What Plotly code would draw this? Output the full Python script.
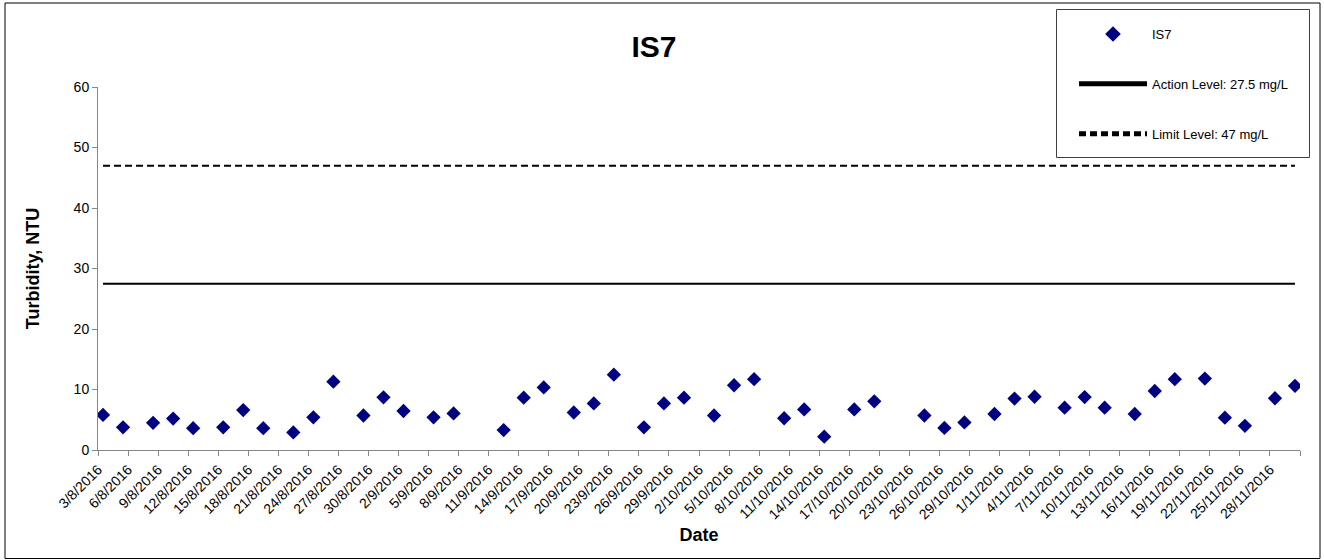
import pandas as pd
import plotly.graph_objects as go

# ---- data ----
sample_dates = [
    "2016-08-03", "2016-08-05", "2016-08-08", "2016-08-10", "2016-08-12",
    "2016-08-15", "2016-08-17", "2016-08-19", "2016-08-22", "2016-08-24",
    "2016-08-26", "2016-08-29", "2016-08-31", "2016-09-02", "2016-09-05",
    "2016-09-07", "2016-09-12", "2016-09-14", "2016-09-16", "2016-09-19",
    "2016-09-21", "2016-09-23", "2016-09-26", "2016-09-28", "2016-09-30",
    "2016-10-03", "2016-10-05", "2016-10-07", "2016-10-10", "2016-10-12",
    "2016-10-14", "2016-10-17", "2016-10-19", "2016-10-24", "2016-10-26",
    "2016-10-28", "2016-10-31", "2016-11-02", "2016-11-04", "2016-11-07",
    "2016-11-09", "2016-11-11", "2016-11-14", "2016-11-16", "2016-11-18",
    "2016-11-21", "2016-11-23", "2016-11-25", "2016-11-28", "2016-11-30",
]
is7_turbidity = [
    5.8, 3.75, 4.5, 5.2, 3.6,
    3.75, 6.6, 3.6, 2.9, 5.4,
    11.3, 5.7, 8.7, 6.45, 5.4,
    6.05, 3.3, 8.65, 10.35, 6.2,
    7.7, 12.45, 3.75, 7.7, 8.65,
    5.7, 10.7, 11.7, 5.25, 6.7,
    2.2, 6.7, 8.05, 5.7, 3.65,
    4.55, 5.95, 8.5, 8.8, 7.0,
    8.75, 7.0, 5.95, 9.75, 11.7,
    11.8, 5.35, 4.0, 8.55, 10.6,
]
action_level = 27.5
limit_level = 47

tick_dates = [
    "2016-08-03", "2016-08-06", "2016-08-09", "2016-08-12", "2016-08-15",
    "2016-08-18", "2016-08-21", "2016-08-24", "2016-08-27", "2016-08-30",
    "2016-09-02", "2016-09-05", "2016-09-08", "2016-09-11", "2016-09-14",
    "2016-09-17", "2016-09-20", "2016-09-23", "2016-09-26", "2016-09-29",
    "2016-10-02", "2016-10-05", "2016-10-08", "2016-10-11", "2016-10-14",
    "2016-10-17", "2016-10-20", "2016-10-23", "2016-10-26", "2016-10-29",
    "2016-11-01", "2016-11-04", "2016-11-07", "2016-11-10", "2016-11-13",
    "2016-11-16", "2016-11-19", "2016-11-22", "2016-11-25", "2016-11-28",
    "2016-12-01",
]
tick_labels = [
    "3/8/2016", "6/8/2016", "9/8/2016", "12/8/2016", "15/8/2016",
    "18/8/2016", "21/8/2016", "24/8/2016", "27/8/2016", "30/8/2016",
    "2/9/2016", "5/9/2016", "8/9/2016", "11/9/2016", "14/9/2016",
    "17/9/2016", "20/9/2016", "23/9/2016", "26/9/2016", "29/9/2016",
    "2/10/2016", "5/10/2016", "8/10/2016", "11/10/2016", "14/10/2016",
    "17/10/2016", "20/10/2016", "23/10/2016", "26/10/2016", "29/10/2016",
    "1/11/2016", "4/11/2016", "7/11/2016", "10/11/2016", "13/11/2016",
    "16/11/2016", "19/11/2016", "22/11/2016", "25/11/2016", "28/11/2016",
    "",
]

# ---- figure ----
W, H = 1324, 560
ML, MR, MT, MB = 98, 24, 87, 110
PW, PH = W - ML - MR, H - MT - MB

# Excel-style date axis: each day's value sits in the middle of its day slot
x_plot = pd.to_datetime(pd.Series(sample_dates)) + pd.Timedelta(hours=12)

FONT = "Liberation Sans, Arial, sans-serif"
AXIS_GREY = "#868686"

fig = go.Figure()
fig.add_trace(go.Scatter(
    x=x_plot, y=is7_turbidity, mode="markers", name="IS7",
    legendgroup="a",
    marker=dict(symbol="diamond", size=11, color="#000080",
                line=dict(width=0)),
))
fig.add_trace(go.Scatter(
    x=x_plot, y=[action_level] * len(x_plot), mode="lines",
    name="Action Level: 27.5 mg/L", legendgroup="b",
    line=dict(color="black", width=2),
))
fig.add_trace(go.Scatter(
    x=x_plot, y=[limit_level] * len(x_plot), mode="lines",
    name="Limit Level: 47 mg/L", legendgroup="c",
    line=dict(color="black", width=2, dash="7px,4px"),
))


def px_x(p):
    return (p - ML) / PW


def px_y(p):
    return (H - MB - p) / PH


# outer chart border
fig.add_shape(type="rect", xref="paper", yref="paper",
              x0=px_x(5), x1=px_x(1320), y0=px_y(3), y1=px_y(558.5),
              line=dict(color="#000000", width=1), fillcolor="rgba(0,0,0,0)",
              layer="below")
# legend frame
fig.add_shape(type="rect", xref="paper", yref="paper",
              x0=px_x(1056.5), x1=px_x(1309.5), y0=px_y(9.5), y1=px_y(157.5),
              line=dict(color="#404040", width=1), fillcolor="white",
              layer="below")

fig.update_layout(
    width=W, height=H,
    margin=dict(l=ML, r=MR, t=MT, b=MB, pad=0, autoexpand=False),
    paper_bgcolor="white", plot_bgcolor="rgba(0,0,0,0)",
    font=dict(family=FONT, color="black"),
    title=dict(text="<b>IS7</b>", font=dict(size=30, family=FONT, color="black"),
               x=654 / W, xanchor="center", xref="container",
               y=1 - 46 / H, yanchor="middle", yref="container"),
    showlegend=True,
    legend=dict(
        xref="container", yref="container",
        x=1074 / W, y=1 - 19 / H, xanchor="left", yanchor="top",
        borderwidth=0, bgcolor="rgba(0,0,0,0)",
        font=dict(size=13, family=FONT, color="black"),
        tracegroupgap=30, itemwidth=68, itemsizing="constant",
    ),
    xaxis=dict(
        type="date", automargin=False,
        range=["2016-08-03", "2016-12-01"],
        tickmode="array", tickvals=tick_dates, ticktext=tick_labels,
        tickangle=-45, tickfont=dict(size=14, family=FONT, color="black"),
        ticks="outside", ticklen=5, tickcolor=AXIS_GREY, tickwidth=1,
        showline=True, linecolor=AXIS_GREY, linewidth=1,
        showgrid=False, zeroline=False,
        title=dict(text="<b>Date</b>", font=dict(size=18, family=FONT, color="black"),
                   standoff=6),
    ),
    yaxis=dict(
        range=[0, 60], tick0=0, dtick=10, automargin=False,
        tickfont=dict(size=14, family=FONT, color="black"),
        ticks="outside", ticklen=5, tickcolor=AXIS_GREY, tickwidth=1,
        showline=True, linecolor=AXIS_GREY, linewidth=1,
        showgrid=False, zeroline=False,
        title=dict(text="<b>Turbidity, NTU</b>", font=dict(size=18, family=FONT, color="black"),
                   standoff=29),
    ),
)

fig.write_html("out.html", config={"displayModeBar": False},
               post_script="document.body.style.margin='0';")
